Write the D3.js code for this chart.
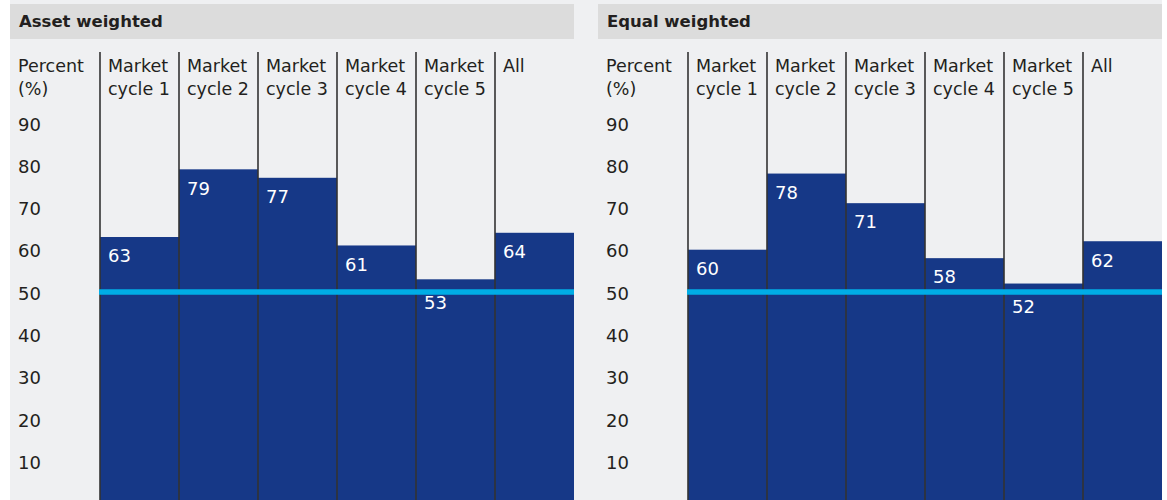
<!DOCTYPE html>
<html>
<head>
<meta charset="utf-8">
<script src="https://cdn.jsdelivr.net/npm/d3@7"></script>
<style>
  body { margin: 0; background: #fff; }
  svg text { font-family: "DejaVu Sans", sans-serif; fill: #231f20; }
</style>
</head>
<body>
<svg id="drawing_region"></svg>
<script>
// chart data
const categories = ["Market cycle 1", "Market cycle 2", "Market cycle 3", "Market cycle 4", "Market cycle 5", "All"];
const headerLines = [["Market", "cycle 1"], ["Market", "cycle 2"], ["Market", "cycle 3"], ["Market", "cycle 4"], ["Market", "cycle 5"], ["All"]];
const assetWeighted = [63, 79, 77, 61, 53, 64];
const equalWeighted = [60, 78, 71, 58, 52, 62];
const panelTitles = ["Asset weighted", "Equal weighted"];
const tickValues = [10, 20, 30, 40, 50, 60, 70, 80, 90];
const referenceLine = 50;

const W = 1167, H = 500;

const svg = d3.select('#drawing_region')
    .attr('width', W)
    .attr('height', H);

// light grey backdrop behind both panels
svg.append('rect')
    .attr('x', 10).attr('y', 0)
    .attr('width', 1152).attr('height', H)
    .attr('fill', '#eff0f2');

const yscale = d3.scaleLinear()
    .domain([0, 90])
    .range([503.5, 122.8]);

function drawPanel( left, title, values ) {
  const g = svg.append('g');
  const plotLeft = left + 89;
  const plotRight = left + 564;

  // header bar
  g.append('rect')
      .attr('x', left).attr('y', 4)
      .attr('width', 564).attr('height', 35)
      .attr('fill', '#dcdcdc');
  g.append('text')
      .attr('x', left + 9).attr('y', 27)
      .attr('font-size', '16.5px')
      .attr('font-weight', 'bold')
      .text(title);

  const xscale = d3.scaleBand()
      .domain(categories)
      .rangeRound([plotLeft, plotRight])
      .padding(0);

  // y axis labels
  const yaxis = d3.axisRight( yscale )
      .tickValues(tickValues)
      .tickSize(0)
      .tickPadding(0);
  const yg = g.append('g')
      .attr('transform', `translate(${left + 8}, 1.5)`)
      .call(yaxis);
  yg.select('.domain').remove();
  yg.selectAll('text')
      .attr('font-size', '18px')
      .attr('font-family', '"DejaVu Sans", sans-serif')
      .attr('fill', '#231f20');

  const unitTitle = g.append('text')
      .attr('x', left + 8)
      .attr('font-size', '17.5px');
  unitTitle.append('tspan').attr('x', left + 8).attr('y', 72).text('Percent');
  unitTitle.append('tspan').attr('x', left + 8).attr('y', 95).text('(%)');

  // bars
  g.selectAll('rect.bar')
      .data(values)
      .enter()
      .append('rect')
      .attr('class', 'bar')
      .attr('x', (d, i) => xscale(categories[i]))
      .attr('y', d => yscale(d))
      .attr('width', (d, i) => i === values.length - 1 ? plotRight - xscale(categories[i]) : xscale.bandwidth())
      .attr('height', d => yscale(0) - yscale(d))
      .attr('fill', '#163887');

  // column separators
  g.selectAll('line.sep')
      .data(categories)
      .enter()
      .append('line')
      .attr('class', 'sep')
      .attr('x1', d => xscale(d)).attr('x2', d => xscale(d))
      .attr('y1', 52).attr('y2', H)
      .attr('stroke', '#333')
      .attr('stroke-width', 1.6);

  // reference line at 50
  g.append('line')
      .attr('x1', plotLeft).attr('x2', plotRight)
      .attr('y1', yscale(referenceLine)).attr('y2', yscale(referenceLine))
      .attr('stroke', '#00ade6')
      .attr('stroke-width', 5.5);

  // column headers
  categories.forEach((c, i) => {
    const t = g.append('text')
        .attr('font-size', '17.5px');
    headerLines[i].forEach((line, j) => {
      t.append('tspan')
          .attr('x', xscale(c) + 8)
          .attr('y', 72 + j * 23)
          .text(line);
    });
  });

  // value labels
  g.selectAll('text.val')
      .data(values)
      .enter()
      .append('text')
      .attr('class', 'val')
      .attr('x', (d, i) => xscale(categories[i]) + 8)
      .attr('y', d => {
        const top = yscale(d);
        const near = yscale(referenceLine) - top < 16;
        return top + (near ? 23 : 19);
      })
      .attr('dy', '0.35em')
      .attr('font-size', '18px')
      .style('fill', '#fff')
      .text(d => d);
}

drawPanel(10, panelTitles[0], assetWeighted);
drawPanel(598, panelTitles[1], equalWeighted);
</script>
</body>
</html>
